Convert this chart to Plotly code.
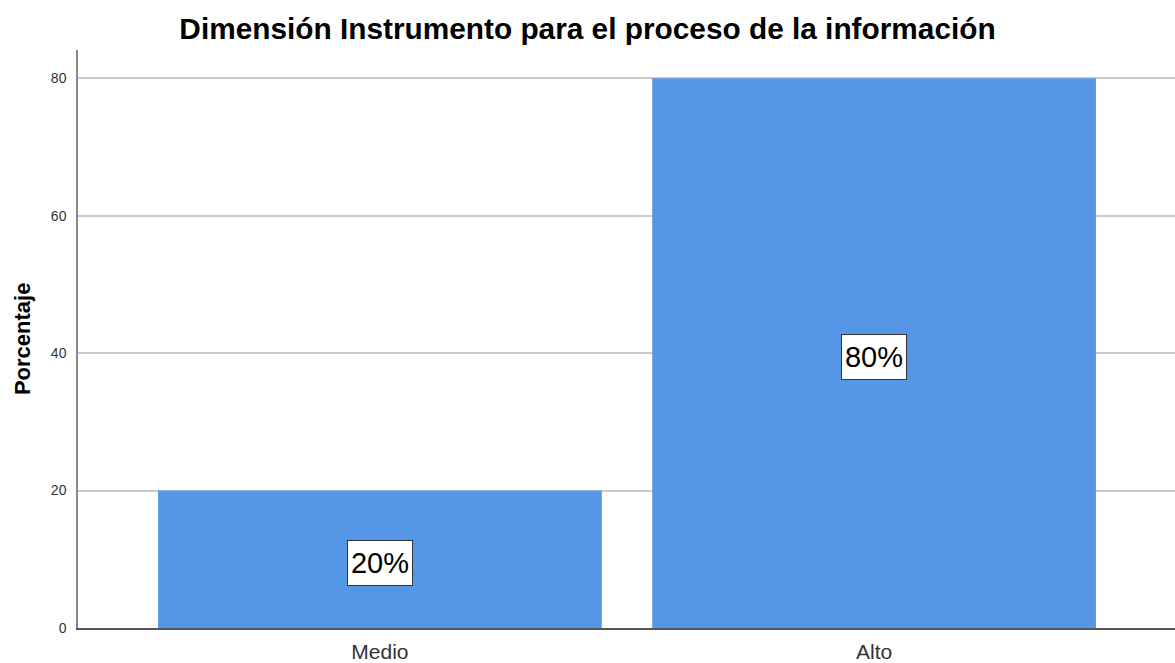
import plotly.graph_objects as go

categories = ["Medio", "Alto"]
values = [20, 80]
labels = ["20%", "80%"]
y_ticks = [0, 20, 40, 60, 80]

FONT = "Liberation Sans, Arial, sans-serif"

fig = go.Figure()
fig.add_trace(go.Bar(
    x=categories, y=values, width=0.898,
    marker=dict(color="#5596E6", line=dict(width=0)),
    hoverinfo="skip",
))

for c, v, t in zip(categories, values, labels):
    fig.add_annotation(
        x=c, y=v / 2, text=t, showarrow=False, yshift=-4,
        font=dict(family=FONT, size=29, color="#000"),
        width=62, height=42, align="center", valign="middle",
        bgcolor="white", bordercolor="#333", borderwidth=1, borderpad=1,
    )

fig.add_annotation(
    xref="paper", yref="paper", x=-0.051, y=0.5, text="<b>Porcentaje</b>",
    textangle=-90, showarrow=False, xanchor="center", yanchor="middle",
    font=dict(family=FONT, size=22, color="#000"),
)

fig.update_layout(
    width=1175, height=663,
    margin=dict(l=78, r=0, t=50, b=35),
    paper_bgcolor="white", plot_bgcolor="white",
    showlegend=False,
    title=dict(
        text="<b>Dimensión Instrumento para el proceso de la información</b>",
        x=0.5, xanchor="center", y=1 - 29 / 663, yanchor="middle",
        font=dict(family=FONT, size=29.8, color="#000"),
    ),
    xaxis=dict(
        range=[-0.611, 1.609], showgrid=False,
        showline=True, linecolor="#555", linewidth=1.5,
        ticks="", ticklabelstandoff=4,
        tickfont=dict(family=FONT, size=21, color="#333"),
    ),
    yaxis=dict(
        range=[0, 84.1], tickvals=y_ticks,
        showgrid=True, gridcolor="#cccccc", gridwidth=1.5,
        showline=True, linecolor="#888", linewidth=1.5,
        ticks="", ticklabelstandoff=7,
        tickfont=dict(family=FONT, size=14, color="#333"),
        zeroline=False,
    ),
)

fig.write_html(
    "out.html",
    config={"displayModeBar": False},
    post_script="document.body.style.margin='0';document.body.style.overflow='hidden';",
)
